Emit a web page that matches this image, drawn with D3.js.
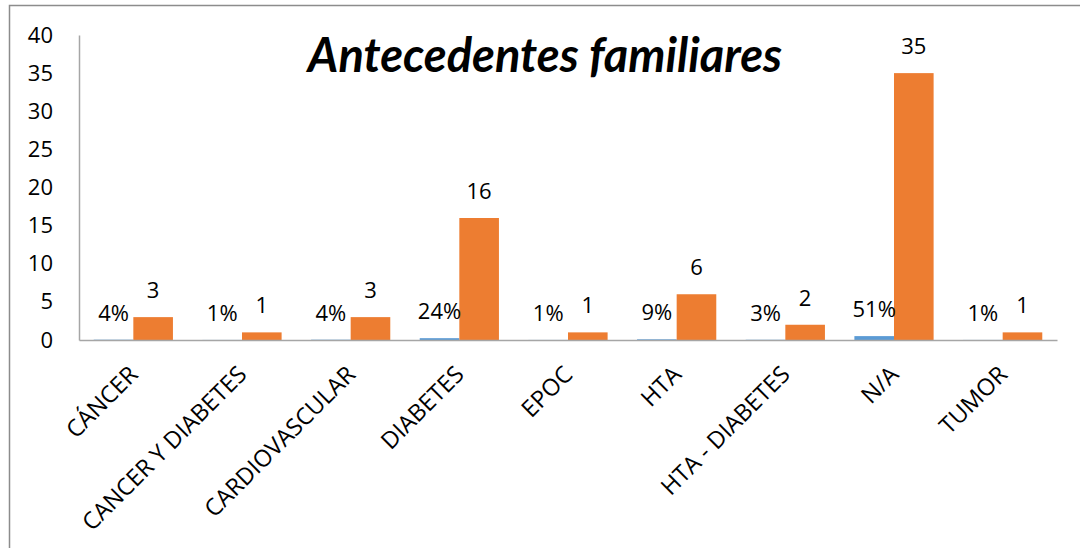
<!DOCTYPE html>
<html>
<head>
<meta charset="utf-8">
<script src="https://cdn.jsdelivr.net/npm/d3@7"></script>
<style>
  html, body { margin: 0; padding: 0; background: #fff; }
  svg { display: block; }
  text { font-family: "Open Sans", sans-serif; fill: #000; }
</style>
</head>
<body>
<svg id="chart" width="1080" height="548"></svg>
<script>
// Family history categories
const categories = ["CÁNCER", "CANCER Y DIABETES", "CARDIOVASCULAR", "DIABETES", "EPOC", "HTA", "HTA - DIABETES", "N/A", "TUMOR"];
// Share of patients (fraction) and number of patients per category
const percentValues = [0.04, 0.01, 0.04, 0.24, 0.01, 0.09, 0.03, 0.51, 0.01];
const countValues = [3, 1, 3, 16, 1, 6, 2, 35, 1];
const yTicks = [0, 5, 10, 15, 20, 25, 30, 35, 40];
const seriesColors = ["#5B9BD5", "#ED7D31"];
const title = "Antecedentes familiares";

const svg = d3.select("#chart");
const plot = { left: 79, right: 1057, top: 35, bottom: 340 };

// chart frame (open on the right/bottom edges of the view)
svg.append("path")
  .attr("d", "M9.5,548 V5.5 H1080")
  .attr("fill", "none")
  .attr("stroke", "#8c8c8c")
  .attr("stroke-width", 1.5);

const x0 = d3.scaleBand()
  .domain(categories)
  .range([plot.left, plot.right])
  .paddingInner(0.271)
  .paddingOuter(0.1355);

const x1 = d3.scaleBand()
  .domain([0, 1])
  .range([0, x0.bandwidth()]);

const y = d3.scaleLinear()
  .domain([0, 40])
  .range([plot.bottom, plot.top]);

// y axis labels and line
const yAxis = d3.axisLeft(y).tickValues(yTicks).tickSize(0).tickPadding(26);
const yg = svg.append("g")
  .attr("transform", `translate(${plot.left},0)`)
  .call(yAxis);
yg.select(".domain").attr("stroke", "#a6a6a6").attr("stroke-width", 1.5);
yg.selectAll("text")
  .style("font-family", "'Open Sans', sans-serif")
  .style("font-size", "22px")
  .attr("fill", "#000");

// grouped bars
const rows = categories.map((c, i) => ({ cat: c, vals: [percentValues[i], countValues[i]] }));
const groups = svg.append("g").selectAll("g")
  .data(rows)
  .join("g")
  .attr("transform", d => `translate(${x0(d.cat)},0)`);

groups.selectAll("rect")
  .data(d => d.vals.map((v, k) => ({ k, v })))
  .join("rect")
  .attr("x", d => x1(d.k))
  .attr("width", x1.bandwidth())
  .attr("y", d => y(d.v))
  .attr("height", d => y(0) - y(d.v))
  .attr("fill", d => seriesColors[d.k]);

// value labels
groups.selectAll("text.val")
  .data(d => d.vals.map((v, k) => ({ k, v })))
  .join("text")
  .attr("class", "val")
  .attr("x", d => x1(d.k) + x1.bandwidth() / 2)
  .attr("y", d => y(d.v) - 19)
  .attr("text-anchor", "middle")
  .style("font-size", "22px")
  .text(d => d.k === 0 ? d3.format(".0%")(d.v) : d3.format("d")(d.v));

// x axis baseline
const xAxis = d3.axisBottom(x0).tickSize(0).tickPadding(0);
const xg = svg.append("g")
  .attr("transform", `translate(0,${plot.bottom})`)
  .call(xAxis);
xg.select(".domain").attr("stroke", "#a6a6a6").attr("stroke-width", 1.5);
xg.selectAll(".tick text")
  .style("font-family", "'Open Sans', sans-serif")
  .style("font-size", "23.5px")
  .attr("fill", "#000")
  .attr("text-anchor", "end")
  .attr("dy", 0)
  .attr("y", 0)
  .attr("transform", "translate(6,36) rotate(-45)");

// title
svg.append("text")
  .attr("x", 545)
  .attr("y", 72)
  .attr("text-anchor", "middle")
  .style("font-family", "Lato, 'Open Sans', sans-serif")
  .style("font-weight", "700")
  .style("font-style", "italic")
  .style("font-size", "47px")
  .text(title);
</script>
</body>
</html>
